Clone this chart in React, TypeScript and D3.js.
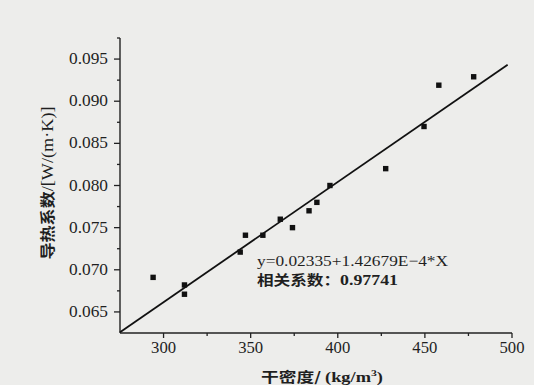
import React from "react";
import * as d3 from "d3";

const density = [294, 312, 312, 344, 347, 357, 367, 374, 383.5, 388, 395.5, 427.5, 449.5, 458, 478];
const conductivity = [0.0691, 0.0682, 0.0671, 0.0721, 0.0741, 0.0741, 0.076, 0.075, 0.077, 0.078, 0.08, 0.082, 0.087, 0.0919, 0.0929];
const xMajor = [300, 350, 400, 450, 500];
const xMinor = [325, 375, 425, 475];
const yMajor = [0.065, 0.07, 0.075, 0.08, 0.085, 0.09, 0.095];
const yMinor = [0.0675, 0.0725, 0.0775, 0.0825, 0.0875, 0.0925, 0.0975];
const fitIntercept = 0.02335;
const fitSlope = 1.42679e-4;
const fitRange = [275, 497.5];
const equationText = "y=0.02335+1.42679E\u22124*X";
const corrLabel = "相关系数：";
const corrValue = "0.97741";
const xLabelCn = "干密度/ ";
const xLabelUnit = "(kg/m";
const yLabelCn = "导热系数";
const yLabelUnit = "/[W/(m·K)]";

const W = 534;
const H = 385;

export default function App() {
  const x = d3.scaleLinear().domain([275, 500]).range([120, 512]);
  const y = d3.scaleLinear().domain([0.0625, 0.0975]).range([333, 38]);
  const fit = d3
    .line<number>()
    .x((d) => x(d))
    .y((d) => y(fitIntercept + fitSlope * d));
  const ink = "#222";
  const textInk = "#1f1f1f";
  const serif = "'Liberation Serif', 'Times New Roman', 'DejaVu Serif', serif";
  const cjk = "'Noto Sans CJK SC', sans-serif";
  return (
    <svg
      width={W}
      height={H}
      style={{ position: "fixed", left: 0, top: 0 }}
      viewBox={`0 0 ${W} ${H}`}
    >
      <rect x={0} y={0} width={W} height={H} fill="#ededeb" />
      {/* axes */}
      <line x1={x(275)} x2={x(500)} y1={y(0.0625)} y2={y(0.0625)} stroke={ink} strokeWidth={1.4} />
      <line x1={x(275)} x2={x(275)} y1={y(0.0625)} y2={y(0.0975)} stroke={ink} strokeWidth={1.4} />
      {xMajor.map((v) => (
        <g key={"xm" + v}>
          <line x1={x(v)} x2={x(v)} y1={y(0.0625)} y2={y(0.0625) + 5} stroke={ink} strokeWidth={1.3} />
          <text
            x={x(v)}
            y={353}
            textAnchor="middle"
            fontFamily={serif}
            fontSize={16}
            fill={textInk}
            textLength={25}
            lengthAdjust="spacingAndGlyphs"
          >
            {v}
          </text>
        </g>
      ))}
      {xMinor.map((v) => (
        <line key={"xn" + v} x1={x(v)} x2={x(v)} y1={y(0.0625)} y2={y(0.0625) + 3} stroke={ink} strokeWidth={1.3} />
      ))}
      {yMajor.map((v) => (
        <g key={"ym" + v}>
          <line x1={x(275) - 6} x2={x(275)} y1={y(v)} y2={y(v)} stroke={ink} strokeWidth={1.3} />
          <text
            x={108}
            y={y(v) + 5}
            textAnchor="end"
            fontFamily={serif}
            fontSize={16}
            fill={textInk}
            textLength={39}
            lengthAdjust="spacingAndGlyphs"
          >
            {d3.format(".3f")(v)}
          </text>
        </g>
      ))}
      {yMinor.map((v) => (
        <line key={"yn" + v} x1={x(275) - 3} x2={x(275)} y1={y(v)} y2={y(v)} stroke={ink} strokeWidth={1.3} />
      ))}
      {/* fit line */}
      <path d={fit(fitRange) || ""} fill="none" stroke="#111" strokeWidth={1.8} />
      {/* points */}
      {density.map((d, i) => (
        <rect
          key={"p" + i}
          x={x(d) - 2.7}
          y={y(conductivity[i]) - 2.7}
          width={5.4}
          height={5.4}
          fill="#111"
        />
      ))}
      {/* annotation */}
      <text
        x={257}
        y={266}
        fontFamily={serif}
        fontSize={15}
        fill={textInk}
        textLength={191}
        lengthAdjust="spacingAndGlyphs"
      >
        {equationText}
      </text>
      <text x={257} y={285} fill={textInk} textLength={141} lengthAdjust="spacingAndGlyphs">
        <tspan fontFamily={cjk} fontSize={14} fontWeight={700}>
          {corrLabel}
        </tspan>
        <tspan fontFamily={serif} fontSize={15} fontWeight={700}>
          {corrValue}
        </tspan>
      </text>
      {/* axis labels */}
      <text x={261} y={382} fill={textInk} textLength={122} lengthAdjust="spacingAndGlyphs">
        <tspan fontFamily={cjk} fontSize={13.5} fontWeight={700}>
          {xLabelCn}
        </tspan>
        <tspan fontFamily={serif} fontSize={14} fontWeight={700}>
          {xLabelUnit}
        </tspan>
        <tspan fontFamily={serif} fontSize={9} fontWeight={700} dy={-6}>
          3
        </tspan>
        <tspan fontFamily={serif} fontSize={14} fontWeight={700} dy={6}>
          )
        </tspan>
      </text>
      <text
        transform={`translate(53,${183}) rotate(-90)`}
        textAnchor="middle"
        fill={textInk}
        textLength={153}
        lengthAdjust="spacingAndGlyphs"
      >
        <tspan fontFamily={cjk} fontSize={15} fontWeight={700}>
          {yLabelCn}
        </tspan>
        <tspan fontFamily={serif} fontSize={16}>
          {yLabelUnit}
        </tspan>
      </text>
    </svg>
  );
}
